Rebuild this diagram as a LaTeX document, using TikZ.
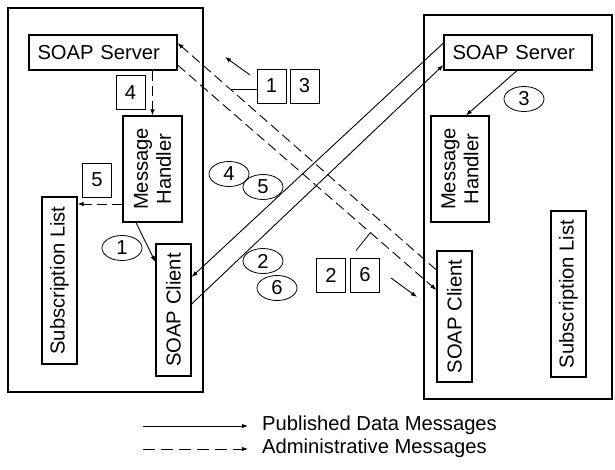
\documentclass[tikz,border=0pt]{standalone}
\usepackage{fontspec}
\setmainfont{Liberation Sans}
\usetikzlibrary{arrows.meta,calc,shapes.geometric}

\begin{document}
\begin{tikzpicture}[x=1pt,y=-1pt,
  font=\fontsize{20.2}{23}\selectfont,
  host/.style={draw,line width=1.6pt,inner sep=0pt},
  part/.style={draw,line width=1.2pt,inner sep=0pt},
  vpart/.style={part,rotate=90,minimum height=35pt},
  server/.style={part,text width=131pt,align=left,inner xsep=8.5pt,inner ysep=0pt,minimum height=35pt},
  tag/.style={draw,line width=1pt,minimum width=29pt,minimum height=34pt,inner sep=0pt},
  seq/.style={ellipse,draw,line width=0.8pt,minimum width=40pt,minimum height=25pt,inner sep=0pt},
  data/.style={line width=0.9pt,-{Latex[length=6pt,width=4.5pt]}},
  admin/.style={data,dash pattern=on 10pt off 5pt},
  keyadmin/.style={data,dash pattern=on 12pt off 6pt},
  leader/.style={line width=0.8pt}
]
\useasboundingbox[fill=white] (0,0) rectangle (615,469);

% the two hosts
\node[host,minimum width=195pt,minimum height=384pt] (lhost) at (105.5,200) {};
\node[host,minimum width=188pt,minimum height=384pt] (rhost) at (518,207) {};

% components of the left host
\node[server] (ls) at (103,52.5) {SOAP Server};
\node[vpart,minimum width=106pt,minimum height=59pt,align=center] (lmh) at (152.5,169) {Message\\Handler};
\node[vpart,minimum width=167pt] (lsl) at (59.5,280.5) {Subscription List};
\node[vpart,minimum width=132pt] (lc) at (173.5,310) {SOAP Client};

% components of the right host
\node[server] (rs) at (518,52.5) {SOAP Server};
\node[vpart,minimum width=106pt,minimum height=58pt,align=center] (rmh) at (460,169) {Message\\Handler};
\node[vpart,minimum width=166pt] (rsl) at (568.5,294) {Subscription List};
\node[vpart,minimum width=131pt] (rc) at (454.5,316.5) {SOAP Client};

% step numbers
\node[tag] (box4) at (130.5,92.5) {4};
\node[tag] (box5) at (97,180) {5};
\node[tag] (box1) at (271.5,86) {1};
\node[tag] (box3) at (304.5,86) {3};
\node[tag] (box2) at (331,275) {2};
\node[tag] (box6) at (365,275) {6};

\node[seq] (e1) at (122,248) {1};
\node[seq] (e3) at (524,99) {3};
\node[seq] (e4) at (229,174) {4};
\node[seq] (e5) at (263,187) {5};
\node[seq] (e2) at (263,261) {2};
\node[seq] (e6) at (277,288) {6};

% messages inside the left host
\draw[admin] (ls.south -| lmh.east) -- (lmh.east);
\coordinate (m5) at ($(lmh.north)+(0,35)$);
\draw[admin] (m5) -- (m5 -| lsl.south);
\draw[data] ($(lmh.west)+(-16.5,0)$) -- ($(lc.north)+(0,-48)$);

% messages inside the right host
\draw[data] ($(rs.south)+(-1,0)$) -- ($(rmh.east)+(6,0)$);

% published data between the hosts
\draw[data] ($(rs.west)+(0,-9.5)$) -- ($(lc.south)+(0,-33)$);
\draw[data] ($(lc.south)+(0,-6)$) -- ($(rs.west)+(0,12.5)$);

% administrative messages between the hosts
\coordinate (d1a) at ($(rc.north)+(0,-46.5)$);
\coordinate (d1b) at ($(ls.east)+(0,-9.5)$);
\coordinate (d2a) at ($(ls.east)+(0,12.5)$);
\coordinate (d2b) at ($(rc.north)+(0,-26.5)$);
\draw[admin] (d1a) -- (d1b);
\draw[admin] (d2a) -- (d2b);

% leaders from the step numbers to their messages
\coordinate (t1) at ($(d1a)!0.795!(d1b)$);
\draw[leader] (box1.west |- t1) -- (t1);
\coordinate (t2) at ($(d2a)!0.745!(d2b)$);
\draw[leader] ($(box6.north west)+(6,-7)$) -- (t2);

% direction marks
\coordinate (p1) at (250,75);
\coordinate (p2) at (225,57);
\draw[data] (p1) -- (p2);
\coordinate (p3) at (391,278);
\coordinate (p4) at (417,297);
\draw[data] (p3) -- (p4);

% legend
\node[anchor=west,inner xsep=14pt,inner ysep=0pt] (pub) at (248,425) {Published Data Messages};
\coordinate (lg1) at (143,426);
\draw[data] (lg1) -- (lg1 -| pub.west);
\node[anchor=west,inner xsep=14pt,inner ysep=0pt] (adm) at (248,448) {Administrative Messages};
\coordinate (lg2) at (143,449);
\draw[keyadmin] (lg2) -- (lg2 -| adm.west);
\end{tikzpicture}
\end{document}
